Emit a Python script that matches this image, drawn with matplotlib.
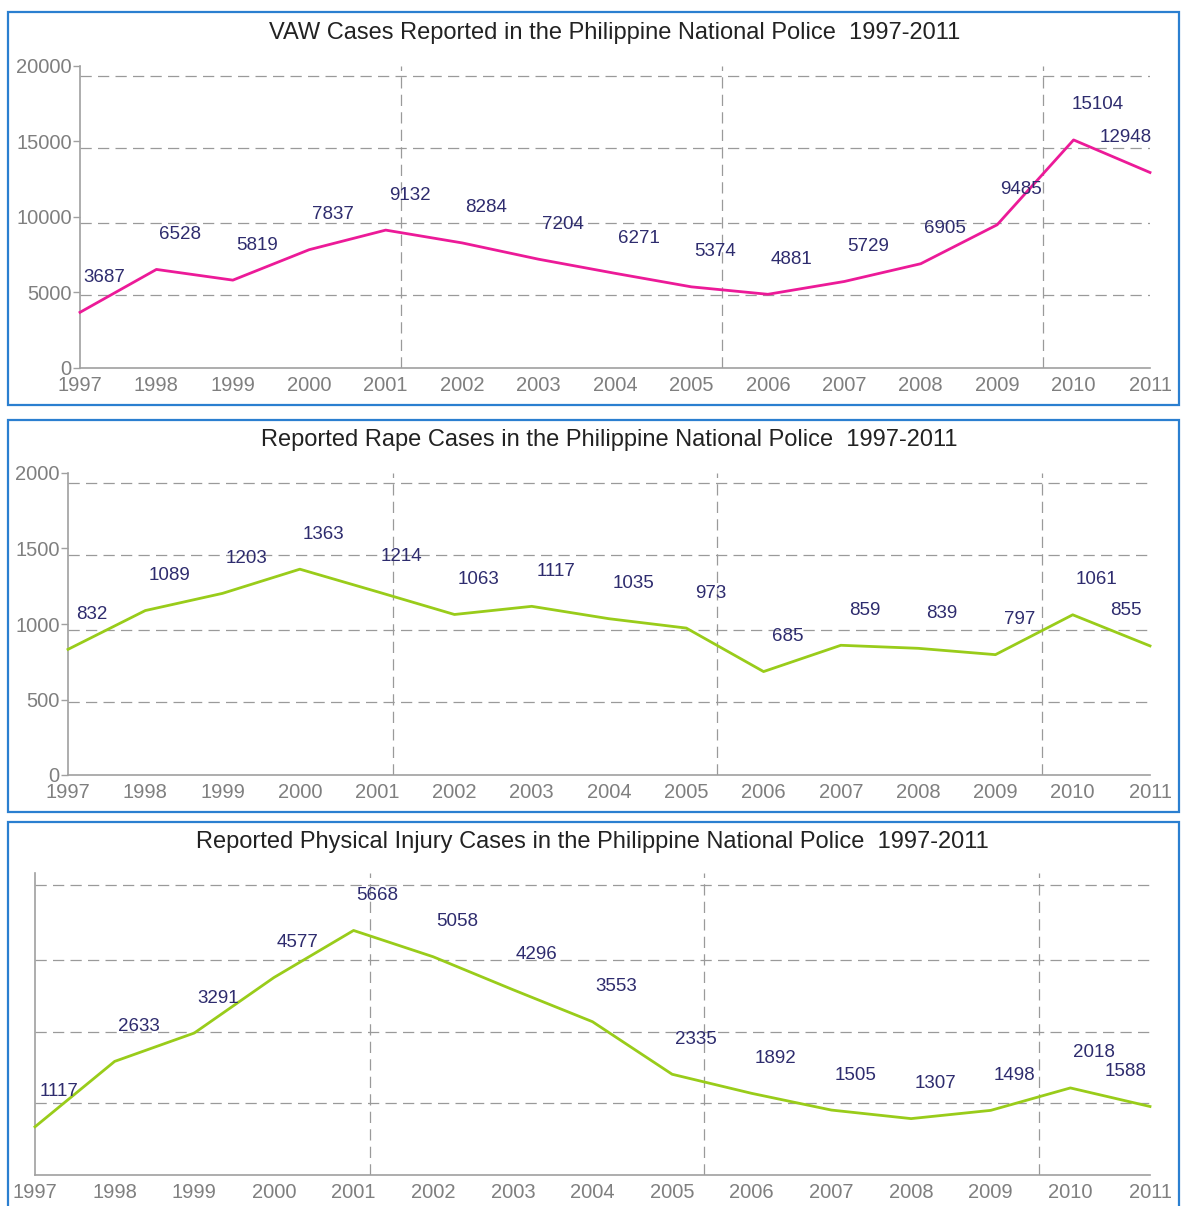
import matplotlib
matplotlib.use("Agg")
import matplotlib.pyplot as plt
from matplotlib.patches import Rectangle

plt.rcParams['font.family'] = ['Liberation Sans', 'DejaVu Sans']

years = list(range(1997, 2012))
year_labels = [str(y) for y in years]

vaw_title = "VAW Cases Reported in the Philippine National Police  1997-2011"
vaw_values = [3687, 6528, 5819, 7837, 9132, 8284, 7204, 6271, 5374, 4881, 5729, 6905, 9485, 15104, 12948]
vaw_yticks = [0, 5000, 10000, 15000, 20000]

rape_title = "Reported Rape Cases in the Philippine National Police  1997-2011"
rape_values = [832, 1089, 1203, 1363, 1214, 1063, 1117, 1035, 973, 685, 859, 839, 797, 1061, 855]
rape_yticks = [0, 500, 1000, 1500, 2000]

inj_title = "Reported Physical Injury Cases in the Philippine National Police  1997-2011"
inj_values = [1117, 2633, 3291, 4577, 5668, 5058, 4296, 3553, 2335, 1892, 1505, 1307, 1498, 2018, 1588]
inj_ymax = 7000

W, H = 1183, 1206
fig = plt.figure(figsize=(W / 100, H / 100), dpi=100)

BORDER = '#2b7fd0'
GRID = '#9a9a9a'
TICK = '#7f7f7f'
LABEL = '#2e2c6e'
MAGENTA = '#ec1a98'
GREEN = '#99cc1a'


def add_ax(l, t, r, b):
    return fig.add_axes([l / W, 1 - b / H, (r - l) / W, (b - t) / H])


def border(l, t, r, b):
    fig.patches.append(Rectangle((l / W, 1 - b / H), (r - l) / W, (b - t) / H,
                                 transform=fig.transFigure, fill=False,
                                 edgecolor=BORDER, linewidth=1.6, clip_on=False))


def panel(ax, title, values, color, ymax, yticks, hfracs, title_off):
    ax.set_xlim(years[0], years[-1])
    ax.set_ylim(0, ymax)
    for s in ['top', 'right']:
        ax.spines[s].set_visible(False)
    for s in ['left', 'bottom']:
        ax.spines[s].set_color('#a0a0a0')
        ax.spines[s].set_linewidth(1.2)
    ax.set_xticks(years)
    ax.set_xticklabels(year_labels)
    ax.tick_params(axis='x', length=0, pad=6, labelsize=14.5, labelcolor=TICK)
    if yticks is not None:
        ax.set_yticks(yticks)
        ax.set_yticklabels([str(v) for v in yticks])
        ax.tick_params(axis='y', length=5, width=1, color='#a0a0a0', pad=1,
                       labelsize=14.5, labelcolor=TICK)
    else:
        ax.set_yticks([])
    dash = (0, (9, 5))
    for f in hfracs:
        ax.axhline(ymax * f, color=GRID, lw=0.9, ls=dash, zorder=1)
    for f in (0.3, 0.6, 0.9):
        ax.axvline(years[0] + (years[-1] - years[0]) * f, color=GRID, lw=0.9, ls=dash, zorder=1)
    ax.plot(years, values, color=color, lw=2.0, zorder=3, clip_on=False, solid_joinstyle='round')
    n = len(values)
    for i, (x, v) in enumerate(zip(years, values)):
        dx = -24 if i == n - 1 else 24
        ax.annotate(str(v), (x, v), xytext=(dx, 35), textcoords='offset pixels',
                    ha='center', va='center', fontsize=13.5, color=LABEL, zorder=4)
    ax.text(0.5, 1 + title_off, title, transform=ax.transAxes, ha='center',
            va='center', fontsize=17, color='#222222')


border(8, 12, 1179, 405)
border(8, 420, 1179, 812)
border(8, 822, 1179, 1215)

ax1 = add_ax(80, 66, 1150, 368)
panel(ax1, vaw_title, vaw_values, MAGENTA, 20000, vaw_yticks,
      [0.242, 0.481, 0.727, 0.966], 33 / 302)

ax2 = add_ax(68, 473, 1150, 775)
panel(ax2, rape_title, rape_values, GREEN, 2000, rape_yticks,
      [0.242, 0.481, 0.727, 0.966], 33 / 302)

ax3 = add_ax(35, 873, 1150, 1175)
panel(ax3, inj_title, inj_values, GREEN, inj_ymax, None,
      [0.237, 0.4745, 0.712, 0.96], 31 / 302)

fig.savefig('out.png', dpi=100)
